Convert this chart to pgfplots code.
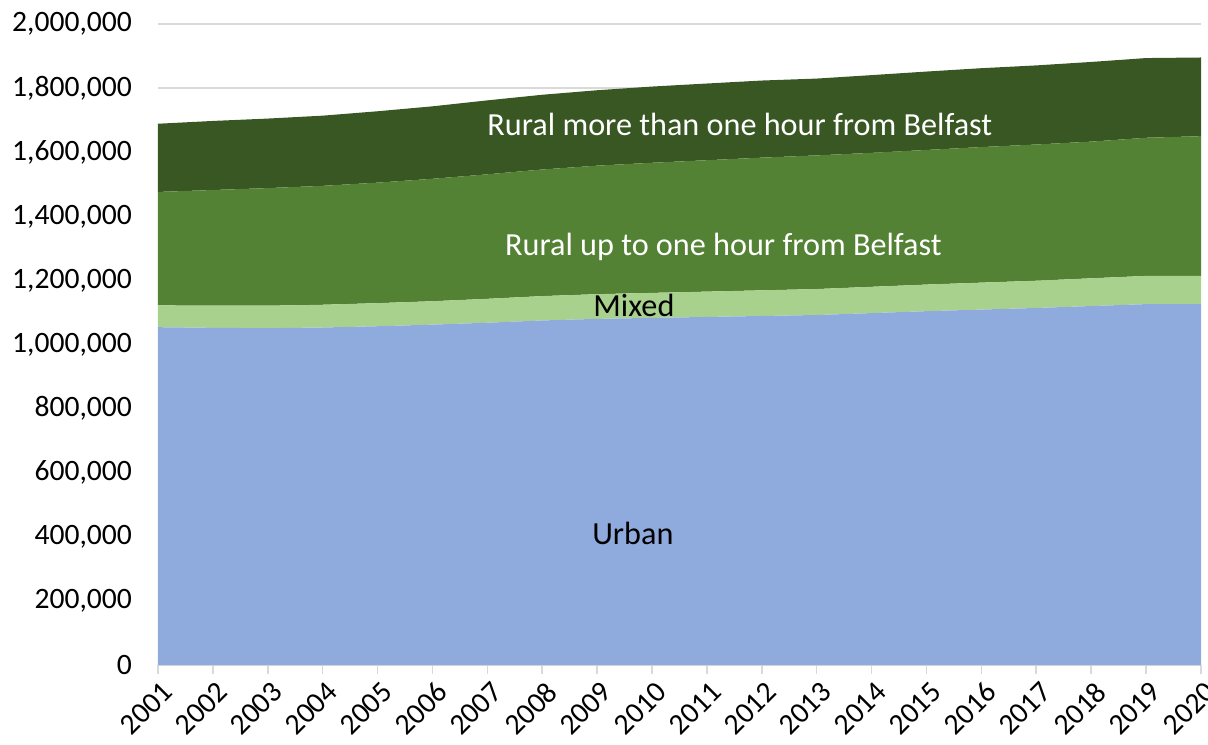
\documentclass[border=0pt]{standalone}
\usepackage{pgfplots}
\pgfplotsset{compat=1.18}
\usepackage{fontspec}
\setmainfont{Carlito}
\definecolor{urban}{HTML}{8FAADC}
\definecolor{mixed}{HTML}{A9D18E}
\definecolor{ruralup}{HTML}{548235}
\definecolor{ruralmore}{HTML}{385723}
\definecolor{gridc}{HTML}{D9D9D9}
\begin{document}
\begin{tikzpicture}
\begin{axis}[
  scale only axis,
  width=521.5pt, height=320.5pt,
  xmin=2001, xmax=2020,
  ymin=0, ymax=2000000,
  stack plots=y,
  axis y line*=left,
  axis x line*=bottom,
  y axis line style={draw=none},
  x axis line style={draw=gridc, line width=1pt},
  xtick={2001,...,2020},
  ytick={0,200000,...,2000000},
  ymajorgrids,
  grid style={gridc, line width=0.8pt},
  major y tick style={draw=none},
  major x tick style={gridc, line width=0.8pt},
  tick align=outside,
  major tick length=4.5pt,
  scaled y ticks=false,
  font=\fontsize{14.8}{18}\selectfont,
  /pgf/number format/assume math mode=true,
  yticklabel style={/pgf/number format/fixed, /pgf/number format/1000 sep={,}, xshift=-5pt},
  xticklabel style={rotate=45, anchor=north east, /pgf/number format/1000 sep={}, inner sep=1pt, yshift=-2pt},
  clip=false,
]
\addplot[fill=urban, draw=none] coordinates {
(2001,1054000)(2002,1052000)(2003,1051000)(2004,1053000)(2005,1057000)
(2006,1062000)(2007,1068000)(2008,1075000)(2009,1080000)(2010,1083000)
(2011,1086000)(2012,1089000)(2013,1092000)(2014,1098000)(2015,1104000)
(2016,1109000)(2017,1114000)(2018,1120000)(2019,1126000)(2020,1126000)} \closedcycle;
\addplot[fill=mixed, draw=none] coordinates {
(2001,68000)(2002,69000)(2003,70000)(2004,71000)(2005,72000)
(2006,73000)(2007,74500)(2008,76000)(2009,77000)(2010,78000)
(2011,79000)(2012,80000)(2013,81000)(2014,82000)(2015,83000)
(2016,84000)(2017,85000)(2018,86500)(2019,88000)(2020,88500)} \closedcycle;
\addplot[fill=ruralup, draw=none] coordinates {
(2001,354000)(2002,361000)(2003,367000)(2004,371000)(2005,376000)
(2006,382000)(2007,388500)(2008,395000)(2009,401000)(2010,406000)
(2011,410000)(2012,414000)(2013,417000)(2014,418000)(2015,420000)
(2016,423000)(2017,425000)(2018,426500)(2019,431000)(2020,435500)} \closedcycle;
\addplot[fill=ruralmore, draw=none] coordinates {
(2001,212800)(2002,215500)(2003,216900)(2004,219000)(2005,222700)
(2006,226100)(2007,230700)(2008,233200)(2009,235300)(2010,237800)
(2011,239300)(2012,240600)(2013,239700)(2014,242500)(2015,244600)
(2016,246100)(2017,246800)(2018,248600)(2019,248700)(2020,245500)} \closedcycle;
\coordinate (lRM) at (axis cs:2011.6,1688000);
\coordinate (lRU) at (axis cs:2011.3,1304000);
\coordinate (lMX) at (axis cs:2009.67,1123000);
\coordinate (lUR) at (axis cs:2009.65,412000);
\end{axis}
\node[white, font=\fontsize{16.1}{19}\selectfont] at (lRM) {Rural more than one hour from Belfast};
\node[white, font=\fontsize{16.1}{19}\selectfont] at (lRU) {Rural up to one hour from Belfast};
\node[black, font=\fontsize{16.1}{19}\selectfont] at (lMX) {Mixed};
\node[black, font=\fontsize{16.1}{19}\selectfont] at (lUR) {Urban};
\pgfresetboundingbox
\path[use as bounding box] (-79pt,-39.5pt) rectangle (525pt,332.5pt);
\end{tikzpicture}
\end{document}
